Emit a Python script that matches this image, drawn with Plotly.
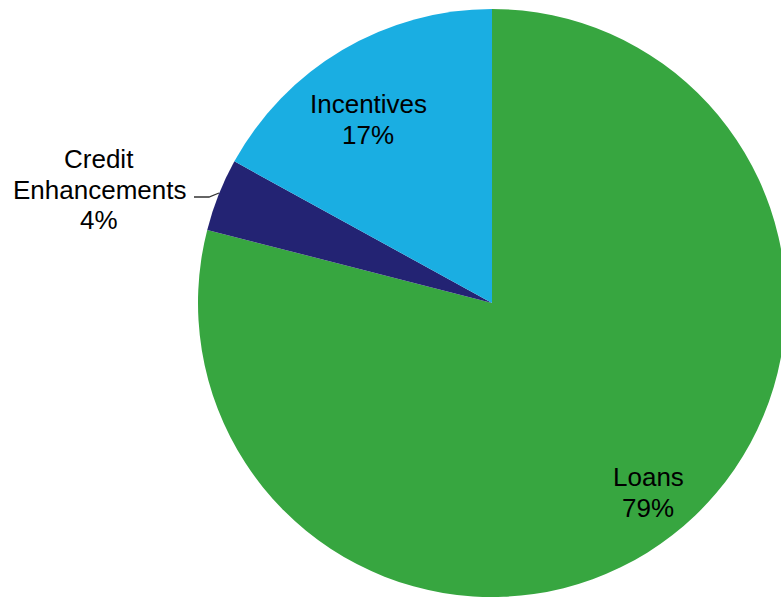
import plotly.graph_objects as go

labels = ["Loans", "Credit<br>Enhancements", "Incentives"]
values = [79, 4, 17]
colors = ["#37A640", "#232373", "#1AAEE2"]

W, H = 800, 599
total = sum(values)
pcts = [round(v / total * 100) for v in values]

# label layout: x centre and y of first line centre (pixels), line spacing
label_pos = [(648, 477), (99, 159), (368, 104)]
LINE = 30.5
FS = 26

fig = go.Figure(go.Pie(
    labels=labels,
    values=values,
    sort=False,
    direction="clockwise",
    rotation=0,
    marker=dict(colors=colors, line=dict(width=0)),
    textinfo="none",
    hoverinfo="label+percent",
    showlegend=False,
    domain=dict(x=[198 / W, 786 / W], y=[2 / H, 590 / H]),
))

annotations = []
for lab, p, (px, py) in zip(labels, pcts, label_pos):
    lines = lab.split("<br>") + [f"{p}%"]
    for i, ln in enumerate(lines):
        annotations.append(dict(
            text=ln,
            x=px / W, y=1 - (py + i * LINE) / H, xref="paper", yref="paper",
            xanchor="center", yanchor="middle", showarrow=False,
            font=dict(family="Liberation Sans, Arial, sans-serif", size=FS, color="#000000"),
        ))

def P(x, y):
    return f"{x / W},{1 - y / H}"

fig.add_shape(type="path", xref="paper", yref="paper",
              path=f"M{P(194, 197)} L{P(209, 197)} L{P(219, 193)}",
              line=dict(color="#333333", width=1.3))

fig.update_layout(
    width=W, height=H, autosize=False,
    margin=dict(l=0, r=0, t=0, b=0),
    paper_bgcolor="white", plot_bgcolor="white",
    annotations=annotations,
)

fig.write_html("out.html", post_script="document.documentElement.style.overflow='hidden';document.body.style.overflow='hidden';document.body.style.margin='0';")
